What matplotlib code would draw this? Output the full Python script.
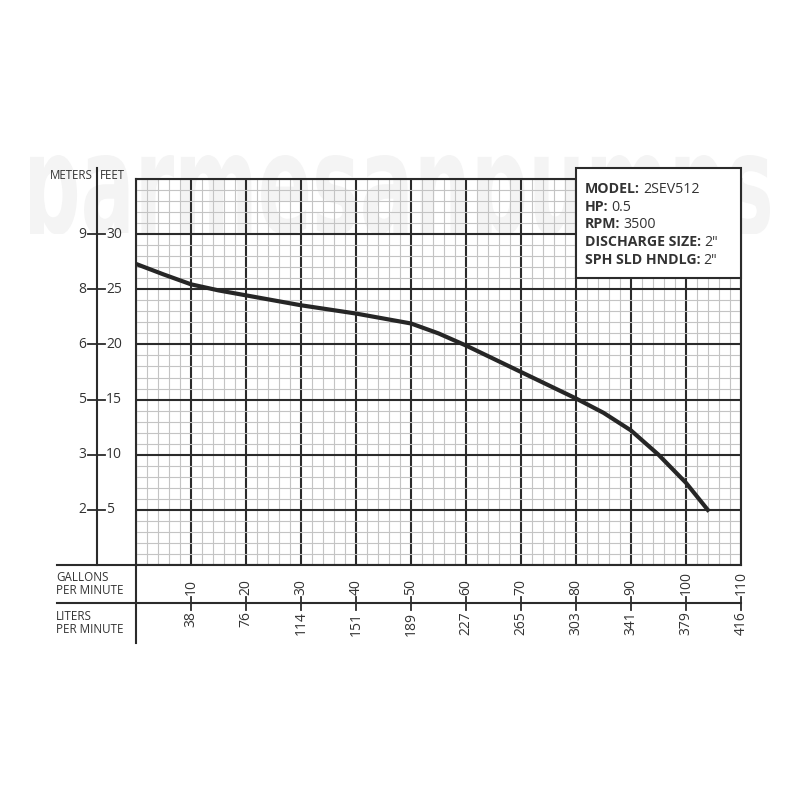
import numpy as np
import matplotlib
matplotlib.use('Agg')
import matplotlib.pyplot as plt
from matplotlib.lines import Line2D
from matplotlib.patches import Rectangle, PathPatch
from matplotlib.textpath import TextPath
from matplotlib.font_manager import FontProperties
from matplotlib.transforms import Affine2D, Bbox, blended_transform_factory

# ---------------- data ----------------
gpm = [0, 5, 10, 15, 20, 30, 40, 50, 55, 60, 65, 70, 75, 80, 85, 90, 95, 100, 104.2]
head_ft = [27.3, 26.35, 25.45, 24.9, 24.45, 23.55, 22.8, 21.9, 21.0, 19.9, 18.7, 17.5,
           16.3, 15.1, 13.8, 12.2, 10.0, 7.45, 4.85]

gpm_ticks = [10, 20, 30, 40, 50, 60, 70, 80, 90, 100, 110]
lpm_labels = ['38', '76', '114', '151', '189', '227', '265', '303', '341', '379', '416']
ft_ticks = [5, 10, 15, 20, 25, 30]
m_labels = ['2', '3', '5', '6', '8', '9']
info_keys = ['MODEL:', 'HP:', 'RPM:', 'DISCHARGE SIZE:', 'SPH SLD HNDLG:']
info_vals = ['2SEV512', '0.5', '3500', '2"', '2"']
watermark = 'parmesanpumps'

# ---------------- figure ----------------
W = H = 800
plt.rcParams['font.family'] = ['Open Sans', 'DejaVu Sans']
fig = plt.figure(figsize=(8, 8), dpi=100)
fig.patch.set_facecolor('white')

def fx(x):
    return x / W

def fy(y):
    return 1 - y / H

DARK = '#2b2b2b'
TXT = '#333333'

# watermark (behind everything)
tp = TextPath((0, 0), watermark, size=100,
              prop=FontProperties(family='DejaVu Sans', weight='bold'))
ext = tp.get_extents()
sx = (770 - 30) / (ext.x1 - ext.x0)
sy = (233 - 155) / ext.y1
wm_tr = Affine2D().translate(-ext.x0, 0).scale(sx, sy).translate(30, H - 233)
wm = PathPatch(tp, transform=wm_tr, fc='#f4f4f4', ec='none', zorder=-1)
wm.set_clip_box(Bbox.from_extents(0, H - 234, W, H - 150))
fig.add_artist(wm)

# main grid axes
ax = fig.add_axes([fx(136), fy(565), (741 - 136) / W, (565 - 179) / H])
ax.set_facecolor('none')
ax.set_xlim(0, 110)
ax.set_ylim(0, 35)
ax.set_xticks(np.arange(0, 111, 10))
ax.set_xticks(np.arange(0, 111, 2), minor=True)
ax.set_yticks(np.arange(0, 36, 5))
ax.set_yticks(np.arange(0, 36, 1), minor=True)
ax.grid(which='minor', color='#c4c4c4', lw=0.8)
ax.grid(which='major', color=DARK, lw=1.5)
ax.tick_params(which='both', length=0, labelbottom=False, labelleft=False)
for s in ax.spines.values():
    s.set_color(DARK)
    s.set_linewidth(1.5)
ax.set_axisbelow(True)
ax.plot(gpm, head_ft, color='#262626', lw=3.0, solid_joinstyle='round',
        solid_capstyle='butt', zorder=5)

# left (meters | feet) scale
trans_y = blended_transform_factory(fig.transFigure, ax.transData)
fig.add_artist(Line2D([fx(96.5)] * 2, [fy(168), fy(565)], color=DARK, lw=1.5))
for f, m in zip(ft_ticks, m_labels):
    fig.add_artist(Line2D([fx(88), fx(105)], [f, f], transform=trans_y, color=DARK, lw=1.3))
    fig.text(fx(86), f, m, transform=trans_y, ha='right', va='center',
             fontsize=10, color=TXT)
    fig.text(fx(106), f, str(f), transform=trans_y, ha='left', va='center',
             fontsize=10, color=TXT)
fig.text(fx(92.5), fy(179), 'METERS', ha='right', va='baseline', fontsize=8.3, color=TXT)
fig.text(fx(100), fy(179), 'FEET', ha='left', va='baseline', fontsize=8.3, color=TXT)

# bottom (gallons / liters) scale
fig.add_artist(Line2D([fx(57), fx(136)], [fy(565)] * 2, color=DARK, lw=1.5))
fig.add_artist(Line2D([fx(57), fx(741)], [fy(603)] * 2, color=DARK, lw=1.5))
fig.add_artist(Line2D([fx(136)] * 2, [fy(565), fy(643)], color=DARK, lw=1.5))
trans_x = blended_transform_factory(ax.transData, fig.transFigure)
for g, l in zip(gpm_ticks, lpm_labels):
    fig.add_artist(Line2D([g, g], [fy(596.5), fy(610)], transform=trans_x, color=DARK, lw=1.3))
    fig.text(g, fy(595), str(g), transform=trans_x, rotation=90, ha='center',
             va='bottom', fontsize=10, color=TXT)
    fig.text(g, fy(611.5), l, transform=trans_x, rotation=90, ha='center',
             va='top', fontsize=10, color=TXT)
fig.text(fx(56), fy(584), 'GALLONS\nPER MINUTE', ha='left', va='center',
         fontsize=8.4, color=TXT, linespacing=1.05)
fig.text(fx(56), fy(623), 'LITERS\nPER MINUTE', ha='left', va='center',
         fontsize=8.4, color=TXT, linespacing=1.05)

# info box
fig.add_artist(Rectangle((fx(576), fy(278)), (741 - 576) / W, (278 - 168) / H,
                         transform=fig.transFigure, fc='white', ec=DARK, lw=1.5, zorder=2))
baselines = [193.3, 211, 228.5, 246, 263.5]
renderer = fig.canvas.get_renderer()
for k, v, b in zip(info_keys, info_vals, baselines):
    t = fig.text(fx(585), fy(b), k, ha='left', va='baseline', fontsize=10.2,
                 weight='bold', color=TXT, zorder=3)
    bb = t.get_window_extent(renderer)
    fig.text((bb.x1 + 3) / W, fy(b), v, ha='left', va='baseline', fontsize=10.2,
             color=TXT, zorder=3)

fig.savefig('out.png', dpi=100)
